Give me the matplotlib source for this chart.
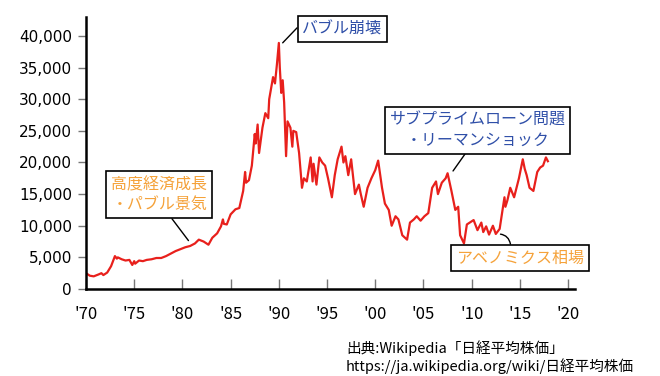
import matplotlib
matplotlib.use("Agg")
import matplotlib.pyplot as plt

plt.rcParams['font.family'] = ['Noto Sans CJK JP', 'DejaVu Sans']

# Nikkei 225
years = [1970.0, 1970.4, 1970.8, 1971.3, 1971.6, 1971.8, 1972.2, 1972.6, 1973.0, 1973.2, 1973.3, 1973.7,
         1974.1, 1974.5, 1974.8, 1975.0, 1975.1, 1975.5, 1975.9, 1976.3, 1976.8, 1977.3, 1977.8,
         1978.3, 1978.8, 1979.3, 1979.8, 1980.3, 1980.8, 1981.3, 1981.7, 1982.2, 1982.7,
         1983.1, 1983.6, 1984.0, 1984.2, 1984.3, 1984.6, 1985.0, 1985.5, 1985.9, 1986.3, 1986.5, 1986.6,
         1986.9, 1987.2, 1987.5, 1987.6, 1987.8, 1987.95, 1988.3, 1988.6, 1988.9, 1989.0, 1989.4, 1989.6, 1989.8,
         1990.0, 1990.1, 1990.25, 1990.4, 1990.55, 1990.75, 1990.9, 1991.2, 1991.4, 1991.5, 1991.8, 1992.1,
         1992.4, 1992.6, 1992.9, 1993.3, 1993.5, 1993.6, 1993.9, 1994.2, 1994.5, 1994.8, 1995.1,
         1995.5, 1995.8, 1996.1, 1996.5, 1996.7, 1996.9, 1997.2, 1997.5, 1997.9, 1998.3, 1998.5, 1998.8,
         1999.2, 1999.6, 2000.0, 2000.3, 2000.7, 2001.0, 2001.4, 2001.7, 2002.1, 2002.4,
         2002.8, 2003.3, 2003.6, 2004.0, 2004.3, 2004.7, 2005.1, 2005.5, 2005.9, 2006.3,
         2006.5, 2006.9, 2007.3, 2007.5, 2007.9, 2008.3, 2008.6, 2008.8, 2009.2, 2009.5,
         2009.8, 2010.2, 2010.6, 2011.0, 2011.2, 2011.5, 2011.8, 2012.2, 2012.5, 2012.9,
         2013.2, 2013.4, 2013.5, 2013.7, 2014.0, 2014.4, 2014.9, 2015.3, 2015.5, 2015.7, 2016.0,
         2016.4, 2016.8, 2017.1, 2017.4, 2017.7, 2017.9]
nikkei = [2500, 2100, 2000, 2300, 2500, 2200, 2600, 3600, 5200, 4800, 5000, 4700,
          4500, 4600, 3800, 4400, 4000, 4500, 4400, 4600, 4700, 4900, 4900,
          5200, 5600, 6000, 6300, 6600, 6800, 7200, 7800, 7500, 7000,
          8100, 8800, 9900, 11000, 10300, 10200, 11800, 12600, 12800, 15500, 18500, 16800,
          17200, 19500, 24500, 23000, 26000, 21500, 25500, 27800, 27000, 30000, 33500, 32500, 35500,
          38900, 35000, 31000, 33000, 29500, 21000, 26500, 25500, 22500, 25000, 24800, 21500,
          16000, 17500, 17000, 20800, 17000, 19800, 16500, 20800, 20000, 19500, 17500,
          14500, 18000, 20500, 22500, 20000, 21000, 18000, 20500, 15000, 16500, 15000, 13000,
          16000, 17500, 18800, 20300, 16000, 13500, 12500, 10000, 11500, 11000,
          8500, 7800, 10500, 11000, 11500, 10800, 11500, 12000, 16000, 17000,
          15000, 16800, 17500, 18300, 15500, 12500, 13000, 8500, 7200, 10200,
          10500, 10900, 9300, 10500, 9000, 9900, 8600, 10000, 8700, 9500,
          12500, 14500, 13000, 14000, 16000, 14500, 17500, 20500, 19000, 18000, 16000,
          15500, 18500, 19200, 19500, 20800, 20200]

x_ticks = [1970, 1975, 1980, 1985, 1990, 1995, 2000, 2005, 2010, 2015, 2020]
x_labels = ["'70", "'75", "'80", "'85", "'90", "'95", "'00", "'05", "'10", "'15", "'20"]
y_ticks = [0, 5000, 10000, 15000, 20000, 25000, 30000, 35000, 40000]

blue = '#2f4fa8'
orange = '#f5a23a'

fig = plt.figure(figsize=(6.6, 3.76), dpi=100)
ax = fig.add_axes([0.1303, 0.2314, 0.7407, 0.7234])

ax.plot(years, nikkei, color='#e8201c', lw=1.6)

ax.set_xlim(1970, 2020.7)
ax.set_ylim(0, 43000)
ax.set_xticks(x_ticks)
ax.set_xticklabels(x_labels, fontsize=12)
ax.set_yticks(y_ticks)
ax.set_yticklabels([f"{v:,}" for v in y_ticks], fontsize=11, family='DejaVu Sans')
ax.tick_params(axis='x', direction='in', length=7, width=1, color='#777777', pad=12)
ax.tick_params(axis='y', direction='out', length=6, width=1, color='#777777', pad=4)
for s in ['top', 'right']:
    ax.spines[s].set_visible(False)
for s in ['left', 'bottom']:
    ax.spines[s].set_linewidth(1.8)

def note(text, xy, xytext, color, relpos, style='arc3'):
    ax.annotate(text, xy=xy, xytext=xytext, ha='center', va='center',
                fontsize=11.5, color=color, linespacing=1.25,
                bbox=dict(boxstyle='square,pad=0.3', fc='white', ec='black', lw=1.2),
                arrowprops=dict(arrowstyle='-', color='black', lw=1, shrinkA=0, shrinkB=2,
                                relpos=relpos, connectionstyle=style))

note('バブル崩壊', (1990.2, 38600), (1996.6, 41100), blue, (0, 0.9))
note('高度経済成長\n・パブル景気', (1980.8, 7300), (1977.6, 14900), orange, (0.59, 0))
note('サブプライムローン問題\n・リーマンショック', (2007.9, 18300), (2010.6, 25100), blue, (0.45, 0))
note('アベノミクス相場', (2012.7, 8700), (2015.0, 4900), orange, (0.43, 1),
     'angle3,angleA=90,angleB=0')

fig.text(346 / 660, 1 - 348 / 376, '出典:Wikipedia「日経平均株価」', fontsize=10.5, va='center', ha='left')
fig.text(346 / 660, 1 - 366 / 376, 'https://ja.wikipedia.org/wiki/日経平均株価', fontsize=10.5, va='center', ha='left')

fig.savefig('out.png', dpi=100)
